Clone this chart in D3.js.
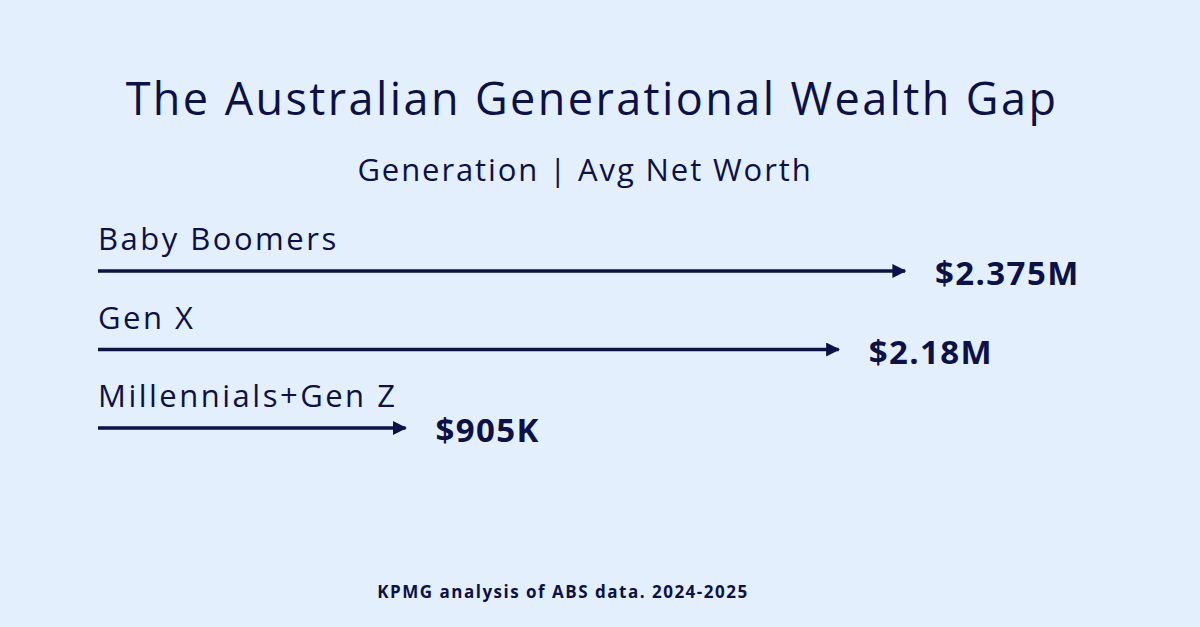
<!DOCTYPE html>
<html lang="en">
<head>
  <meta charset="UTF-8">
  <script src="https://d3js.org/d3.v7.min.js"></script>
  <style>
    body { margin: 0; background: #e3effd; }
    svg { display: block; font-family: "Open Sans", sans-serif; }
  </style>
</head>
<body>
  <div id="chart"></div>
  <script>
    // Data
    const generations = ["Baby Boomers", "Gen X", "Millennials+Gen Z"];
    const netWorth = [2375, 2180, 905]; // thousands AUD
    const valueLabels = ["$2.375M", "$2.18M", "$905K"];

    const width = 1200, height = 627;
    const ink = "#0c1147";

    const svg = d3.select("#chart").append("svg")
      .attr("width", width).attr("height", height);

    svg.append("rect").attr("width", width).attr("height", height).attr("fill", "#e3effd");

    svg.append("text")
      .attr("x", 592).attr("y", 115)
      .attr("text-anchor", "middle")
      .attr("font-size", 45).attr("letter-spacing", 2.4).attr("fill", ink)
      .text("The Australian Generational Wealth Gap");

    svg.append("text")
      .attr("x", 585).attr("y", 181)
      .attr("text-anchor", "middle")
      .attr("font-size", 31).attr("letter-spacing", 1.9).attr("fill", ink)
      .text("Generation | Avg Net Worth");

    const x = d3.scaleLinear().domain([0, d3.max(netWorth)]).range([98, 905]);
    const y = d3.scalePoint().domain(generations).range([271, 428]);

    svg.append("defs").append("marker")
      .attr("id", "arrow")
      .attr("viewBox", "0 0 10 10")
      .attr("refX", 9).attr("refY", 5)
      .attr("markerWidth", 4).attr("markerHeight", 4)
      .attr("markerUnits", "strokeWidth")
      .attr("orient", "auto")
      .append("path").attr("d", "M0,0 L10,5 L0,10 Z").attr("fill", ink);

    const rows = svg.selectAll(".row")
      .data(generations.map((g, i) => ({ g, v: netWorth[i], label: valueLabels[i] })))
      .enter().append("g").attr("class", "row");

    rows.append("text")
      .attr("x", 98).attr("y", d => y(d.g) - 21)
      .attr("font-size", 31).attr("letter-spacing", 2.5).attr("fill", ink)
      .text(d => d.g);

    rows.append("line")
      .attr("x1", x(0)).attr("x2", d => x(d.v))
      .attr("y1", d => y(d.g)).attr("y2", d => y(d.g))
      .attr("stroke", ink).attr("stroke-width", 3.5)
      .attr("marker-end", "url(#arrow)");

    rows.append("text")
      .attr("x", d => x(d.v) + 30).attr("y", d => y(d.g) + 14)
      .attr("font-size", 33).attr("letter-spacing", 1.4).attr("font-weight", "bold").attr("fill", ink)
      .text(d => d.label);

    svg.append("text")
      .attr("x", 563).attr("y", 598)
      .attr("text-anchor", "middle")
      .attr("font-size", 17).attr("letter-spacing", 1.5).attr("font-weight", "bold").attr("fill", ink)
      .text("KPMG analysis of ABS data. 2024-2025");
  </script>
</body>
</html>
